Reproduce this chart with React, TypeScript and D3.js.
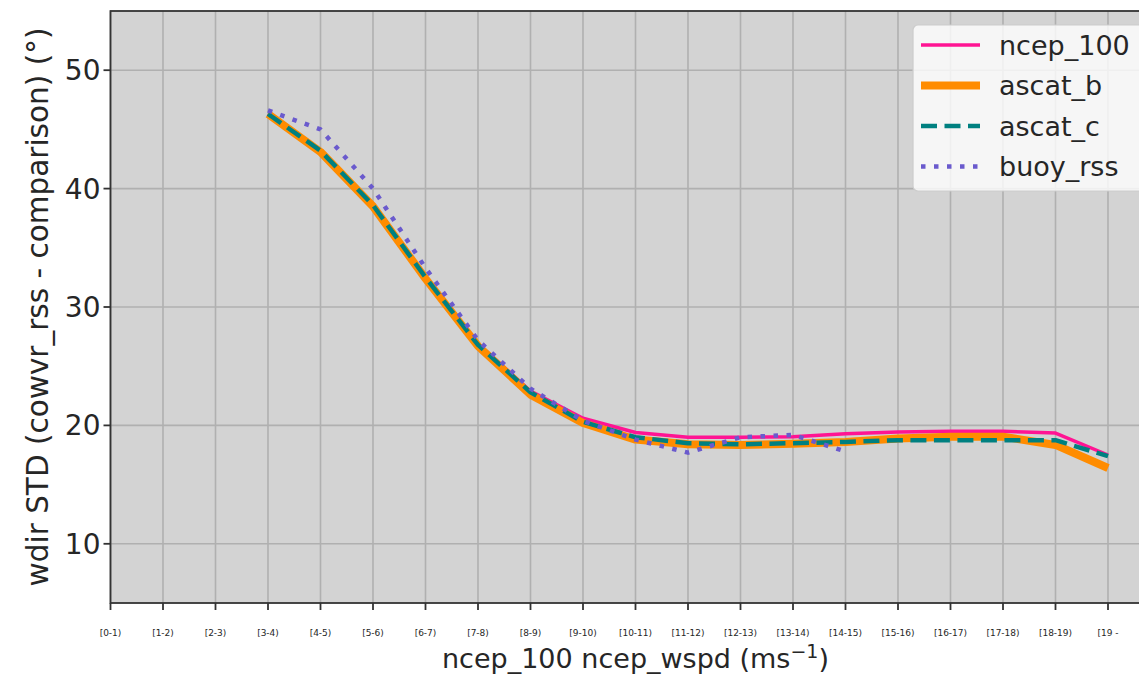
import React from "react";
import * as d3 from "d3";

const categories = ["[0-1)", "[1-2)", "[2-3)", "[3-4)", "[4-5)", "[5-6)", "[6-7)", "[7-8)", "[8-9)", "[9-10)", "[10-11)", "[11-12)", "[12-13)", "[13-14)", "[14-15)", "[15-16)", "[16-17)", "[17-18)", "[18-19)", "[19 -"];
const yTicks = [10, 20, 30, 40, 50];

// values start at [3-4)
const startIndex = 3;
const ncep100 = [46.3, 43.2, 38.7, 32.6, 26.9, 22.9, 20.6, 19.4, 19.0, 19.0, 19.05, 19.3, 19.45, 19.5, 19.5, 19.35, 17.5];
const ascatB = [46.3, 43.1, 38.5, 32.4, 26.7, 22.6, 20.2, 18.8, 18.4, 18.35, 18.45, 18.6, 18.9, 19.05, 19.05, 18.35, 16.4];
const ascatC = [46.3, 43.2, 38.6, 32.5, 26.8, 22.8, 20.3, 19.0, 18.5, 18.4, 18.5, 18.6, 18.75, 18.75, 18.75, 18.75, 17.4];
const buoyRss = [46.6, 45.0, 40.0, 33.3, 27.2, 23.1, 20.4, 18.8, 17.7, 19.0, 19.2, 17.8];

const seriesNames = ["ncep_100", "ascat_b", "ascat_c", "buoy_rss"];

const W = 1139;
const H = 674;
const left = 110.5;
const right = 1160.5;
const top = 11;
const bottom = 603;

export default function App() {
  const x = d3.scaleLinear().domain([0, 20]).range([left, right]);
  const y = d3.scaleLinear().domain([5, 55]).range([bottom, top]);
  const line = d3
    .line<number>()
    .x((_, i) => x(startIndex + i))
    .y((d) => y(d));

  const styles = [
    { data: ncep100, color: "#ff1493", width: 3.5, dash: undefined as string | undefined, cap: "butt" },
    { data: ascatB, color: "#ff8c00", width: 8, dash: undefined, cap: "butt" },
    { data: ascatC, color: "#008080", width: 4.5, dash: "16 7.5", cap: "butt" },
    { data: buoyRss, color: "#6a5acd", width: 4.5, dash: "4.5 8.5", cap: "butt" },
  ];

  const font = "DejaVu Sans, sans-serif";
  const legX = 913;
  const legY = 25;
  const rowH = 40.5;
  const txt = "#262626";

  return (
    <svg
      width={W}
      height={H}
      style={{ position: "absolute", left: 0, top: 0, background: "#fff" }}
      fontFamily={font}
    >
      <defs>
        <clipPath id="plotclip">
          <rect x={left} y={top} width={right - left} height={bottom - top} />
        </clipPath>
      </defs>
      <rect x={left} y={top} width={right - left} height={bottom - top} fill="#d3d3d3" />
      {/* grid */}
      {categories.map((c, i) => (
        <line key={"gx" + i} x1={x(i)} x2={x(i)} y1={top} y2={bottom} stroke="#b0b0b0" strokeWidth={1.6} />
      ))}
      {yTicks.map((t) => (
        <line key={"gy" + t} x1={left} x2={right} y1={y(t)} y2={y(t)} stroke="#b0b0b0" strokeWidth={1.6} />
      ))}
      {/* series */}
      <g clipPath="url(#plotclip)">
        {styles.map((s, i) => (
          <path
            key={"s" + i}
            d={line(s.data) || ""}
            fill="none"
            stroke={s.color}
            strokeWidth={s.width}
            strokeDasharray={s.dash}
            strokeLinecap={s.cap as any}
            strokeLinejoin="round"
          />
        ))}
      </g>
      {/* spines */}
      <rect x={left} y={top} width={right - left} height={bottom - top} fill="none" stroke="#333" strokeWidth={1.8} />
      {/* x ticks */}
      {categories.map((c, i) => (
        <g key={"xt" + i}>
          <line x1={x(i)} x2={x(i)} y1={bottom} y2={bottom + 7} stroke="#333" strokeWidth={1.8} />
          <text x={x(i)} y={bottom + 33} textAnchor="middle" fontSize={9} fill={txt}>
            {c}
          </text>
        </g>
      ))}
      {/* y ticks */}
      {yTicks.map((t) => (
        <g key={"yt" + t}>
          <line x1={left - 7} x2={left} y1={y(t)} y2={y(t)} stroke="#333" strokeWidth={1.8} />
          <text x={left - 10} y={y(t)} dy="0.36em" textAnchor="end" fontSize={28} fill={txt}>
            {t}
          </text>
        </g>
      ))}
      {/* axis labels */}
      <text x={(left + right) / 2} y={668} textAnchor="middle" fontSize={27} fill={txt}>
        ncep_100 ncep_wspd (ms
        <tspan dy={-10} fontSize={19}>−1</tspan>
        <tspan dy={10}>)</tspan>
      </text>
      <text
        transform={`translate(${48},${(top + bottom) / 2}) rotate(-90)`}
        textAnchor="middle"
        fontSize={29.5}
        fill={txt}
      >
        wdir STD (cowvr_rss - comparison) (°)
      </text>
      {/* legend */}
      <rect x={legX} y={legY} width={240} height={166} rx={5} fill="#fff" fillOpacity={0.8} stroke="#ccc" strokeWidth={1.2} />
      {styles.map((s, i) => {
        const cy = legY + 20 + i * rowH;
        return (
          <g key={"lg" + i}>
            <line
              x1={legX + 8}
              x2={legX + 67}
              y1={cy}
              y2={cy}
              stroke={s.color}
              strokeWidth={s.width}
              strokeDasharray={s.dash}
              strokeLinecap={s.cap as any}
            />
            <text x={legX + 86} y={cy} dy="0.36em" fontSize={27} fill={txt}>
              {seriesNames[i]}
            </text>
          </g>
        );
      })}
    </svg>
  );
}
